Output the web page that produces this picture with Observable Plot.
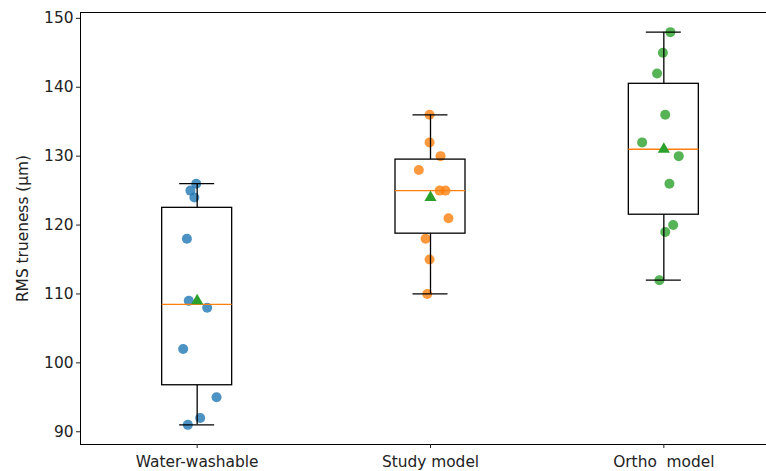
<!DOCTYPE html>
<html>
<head>
<meta charset="utf-8">
<script src="https://cdn.jsdelivr.net/npm/d3@7"></script>
<script src="https://cdn.jsdelivr.net/npm/@observablehq/plot@0.6"></script>
<style>
  html, body { margin: 0; padding: 0; background: white; overflow: hidden; }
  #chart svg { font-family: "DejaVu Sans", sans-serif; }
</style>
</head>
<body>
<div id="chart"></div>
<script>
// Categories and values
const categories = ["Water-washable", "Study model", "Ortho  model"];
const waterWashable = [126, 125, 124, 118, 109, 108, 102, 95, 92, 91];
const studyModel    = [136, 132, 130, 128, 125, 125, 121, 118, 115, 110];
const orthoModel    = [148, 145, 142, 136, 132, 130, 126, 120, 119, 112];
// horizontal jitter of each point (in category units)
const jitterWater = [-0.004, -0.029, -0.012, -0.044, -0.036, 0.043, -0.060, 0.083, 0.013, -0.040];
const jitterStudy = [-0.004, -0.004, 0.043, -0.050, 0.039, 0.064, 0.077, -0.021, -0.004, -0.014];
const jitterOrtho = [0.028, -0.004, -0.029, 0.006, -0.093, 0.064, 0.024, 0.040, 0.006, -0.019];
const yTicks = [90, 100, 110, 120, 130, 140, 150];
const colors = ["#1f77b4", "#ff7f0e", "#2ca02c"];

const groups = [waterWashable, studyModel, orthoModel];
const jitters = [jitterWater, jitterStudy, jitterOrtho];

const points = [];
groups.forEach((vals, i) => vals.forEach((v, j) => points.push({pos: i + 1 + jitters[i][j], value: v, color: colors[i]})));

const stats = groups.map((vals, i) => {
  const s = vals.slice().sort(d3.ascending);
  return {
    pos: i + 1,
    min: d3.min(s), max: d3.max(s),
    q1: d3.quantile(s, 0.25), med: d3.quantile(s, 0.5), q3: d3.quantile(s, 0.75),
    mean: d3.mean(s)
  };
});

const allVals = groups.flat();
const lo = d3.min(allVals), hi = d3.max(allVals), pad = (hi - lo) * 0.05;

const lw = 1.3;
const chart = Plot.plot({
  width: 766,
  height: 471,
  marginLeft: 80,
  marginTop: 12,
  marginBottom: 27,
  marginRight: 0,
  style: {fontSize: "15.4px", fontFamily: "DejaVu Sans, sans-serif", color: "#222", overflow: "visible"},
  x: {type: "linear", domain: [0.5, 3.5], range: [80, 780]},
  y: {domain: [lo - pad, hi + pad]},
  marks: [
    Plot.dot(points, {x: "pos", y: "value", fill: "color", fillOpacity: 0.8, r: 5}),
    Plot.rect(stats, {x1: d => d.pos - 0.15, x2: d => d.pos + 0.15, y1: "q1", y2: "q3", fill: "none", stroke: "black", strokeWidth: lw}),
    Plot.ruleX(stats, {x: "pos", y1: "q3", y2: "max", stroke: "black", strokeWidth: lw}),
    Plot.ruleX(stats, {x: "pos", y1: "min", y2: "q1", stroke: "black", strokeWidth: lw}),
    Plot.ruleY(stats, {y: "max", x1: d => d.pos - 0.075, x2: d => d.pos + 0.075, stroke: "black", strokeWidth: lw}),
    Plot.ruleY(stats, {y: "min", x1: d => d.pos - 0.075, x2: d => d.pos + 0.075, stroke: "black", strokeWidth: lw}),
    Plot.ruleY(stats, {y: "med", x1: d => d.pos - 0.15, x2: d => d.pos + 0.15, stroke: "#ff7f0e", strokeWidth: lw}),
    Plot.dot(stats, {x: "pos", y: "mean", symbol: "triangle", fill: "#2ca02c", r: 4.5}),
    Plot.frame({stroke: "black", strokeWidth: 1}),
    Plot.axisY({ticks: yTicks, tickSize: 4, tickPadding: 3, label: "RMS trueness (µm)", labelAnchor: "center", labelArrow: "none", labelOffset: 63, tickFormat: d => d}),
    Plot.axisX({ticks: [1, 2, 3], tickSize: 4, tickPadding: 8, tickFormat: d => categories[d - 1], label: null})
  ]
});
document.getElementById("chart").appendChild(chart);
</script>
</body>
</html>
